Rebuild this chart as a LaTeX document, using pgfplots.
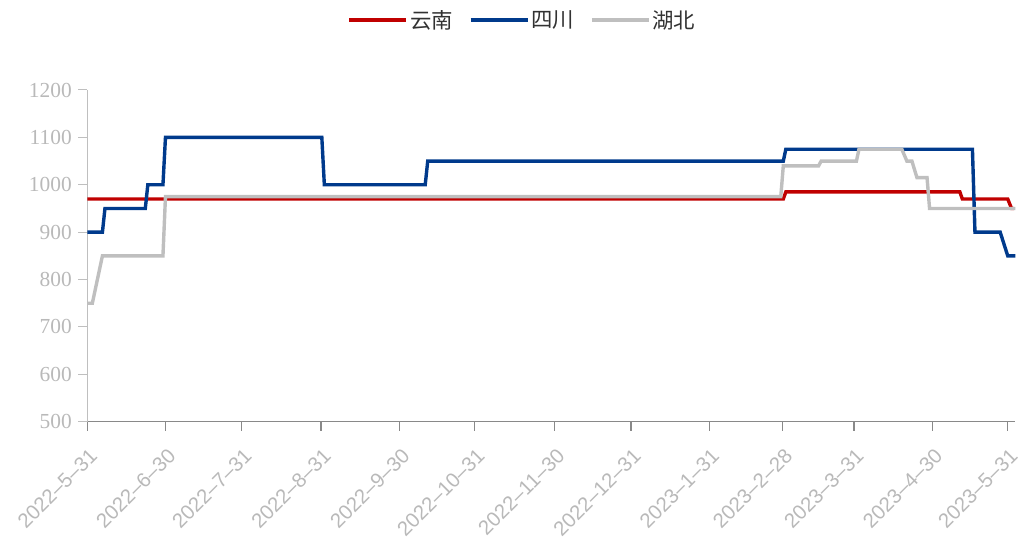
\documentclass[border=0pt]{standalone}
\usepackage{pgfplots}
\pgfplotsset{compat=1.18}
\usepackage{fontspec}
\setmainfont{Liberation Serif}
\newfontfamily\sansf{Liberation Sans}
\newfontfamily\cjk{Noto Sans CJK SC}
\definecolor{cred}{RGB}{192,0,0}
\definecolor{cblue}{RGB}{0,58,140}
\definecolor{cgray}{RGB}{191,191,191}
\definecolor{labgray}{RGB}{185,185,185}
\definecolor{axgray}{RGB}{137,137,137}
\definecolor{leggray}{RGB}{50,50,50}
\begin{document}
\begin{tikzpicture}
\useasboundingbox (-87.3bp,-120.3bp) rectangle (931.7bp,421.7bp);
\begin{axis}[
  at={(0,0)}, anchor=south west,
  scale only axis, width=928bp, height=331.7bp,
  xmin=0, xmax=368, ymin=500, ymax=1200,
  axis x line*=bottom, axis y line*=left,
  x axis line style={-, draw=axgray, line width=1.2bp},
  y axis line style={-, draw=cgray, line width=1bp},
  tick align=outside,
  major tick length=9bp,
  xtick={0,31.1,61.3,92.7,123.9,153.7,185.4,215.6,246.7,275.7,304,335.2,365},
  xticklabels={2022–5–31,2022–6–30,2022–7–31,2022–8–31,2022–9–30,2022–10–31,2022–11–30,2022–12–31,2023–1–31,2023–2–28,2023–3–31,2023–4–30,2023–5–31},
  x tick style={draw=axgray, line width=1.2bp},
  y tick style={draw=cgray, line width=1bp},
  ytick={500,600,...,1200},
  /pgf/number format/assume math mode=true,
  /pgf/number format/1000 sep={},
  yticklabel style={font=\fontsize{21.5}{21.5}\selectfont, text=labgray, xshift=-3bp},
  xticklabel style={font=\sansf\fontsize{20.5}{20.5}\selectfont, text=labgray, xshift=1bp, yshift=-16bp, rotate=45, anchor=north east, inner sep=0bp},
  legend style={at={(0.469,1.211)}, anchor=center, draw=none, fill=none,
    legend columns=3, font=\cjk\fontsize{21.5}{21.5}\selectfont, text=leggray,
    /tikz/every even column/.append style={column sep=14bp}},
  legend image code/.code={\draw[#1] (0bp,0bp) -- (57bp,0bp);},
  clip=false,
]
\addplot[cred, line width=3.4bp] coordinates {
(0,970) (276,970) (277,985) (346,985) (347,970) (365,970) (366.5,950) (367.5,950)
};
\addlegendentry{云南}
\addplot[cblue, line width=3.4bp] coordinates {
(0,900) (6,900) (7,950) (23,950) (24,1000) (30,1000) (31,1100) (93,1100) (94,1000) (134,1000) (135,1050) (276,1050) (277,1075) (351,1075) (352,900) (362,900) (365,850) (368,850)
};
\addlegendentry{四川}
\addplot[cgray, line width=3.4bp] coordinates {
(0,750) (2,750) (6,850) (30,850) (31,975) (275,975) (276,1040) (290,1040) (291,1050) (305,1050) (306,1075) (323,1075) (325,1050) (327,1050) (329,1015) (333,1015) (334,950) (368,950)
};
\addlegendentry{湖北}
\end{axis}
\end{tikzpicture}
\end{document}
